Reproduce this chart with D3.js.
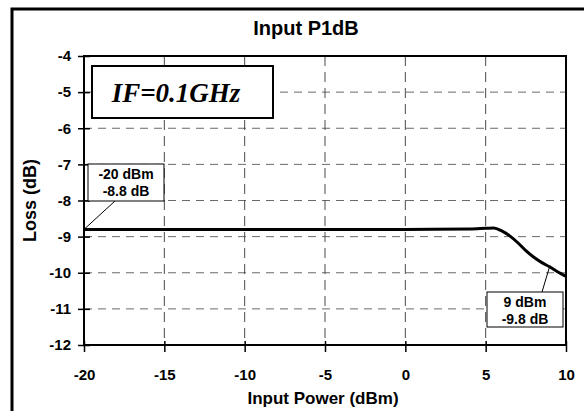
<!DOCTYPE html>
<html><head><meta charset="utf-8">
<script src="https://cdn.jsdelivr.net/npm/d3@7"></script>
<style>body{margin:0;background:#fff}svg{display:block}text{font-family:"Liberation Sans",Arial,sans-serif;font-weight:bold}</style>
</head><body>
<script>
const powerDbm = [-20, -10, 0, 4, 5, 5.5, 6, 6.5, 7, 7.5, 8, 8.5, 9, 9.5, 10];
const lossDb = [-8.8, -8.8, -8.8, -8.79, -8.77, -8.76, -8.84, -8.98, -9.17, -9.39, -9.57, -9.72, -9.84, -9.98, -10.1];
const xTicks = [-20, -15, -10, -5, 0, 5, 10];
const yTicks = [-4, -5, -6, -7, -8, -9, -10, -11, -12];
const annotations = [
  {x: -20, y: -8.8, lines: ["-20 dBm", "-8.8 dB"]},
  {x: 9, y: -9.8, lines: ["9 dBm", "-9.8 dB"]}
];

const W = 584, H = 411;
const svg = d3.select("body").append("svg").attr("width", W).attr("height", H);
const L = 84, R = 566, T = 56, B = 345;
const x = d3.scaleLinear().domain([-20, 10]).range([L, R]);
const y = d3.scaleLinear().domain([-12, -4]).range([B, T]);
const FONT = '"Liberation Sans",Arial,sans-serif';

// outer border
svg.append("rect").attr("x", 12).attr("y", 9).attr("width", 620).attr("height", 450)
  .attr("fill", "none").attr("stroke", "#000").attr("stroke-width", 3);

// grid
svg.append("g").selectAll("line").data(yTicks.filter(d => d > -12 && d < -4)).join("line")
  .attr("x1", L).attr("x2", R).attr("y1", d => y(d)).attr("y2", d => y(d))
  .attr("stroke", "#6a6a6a").attr("stroke-width", 1).attr("stroke-dasharray", "8,6");
svg.append("g").selectAll("line").data(xTicks.filter(d => d > -20 && d < 10)).join("line")
  .attr("y1", T).attr("y2", B).attr("x1", d => x(d)).attr("x2", d => x(d))
  .attr("stroke", "#4a4a4a").attr("stroke-width", 1).attr("stroke-dasharray", "10,6");

// axes
const fmt = d => String(d);
const xAxis = svg.append("g").attr("transform", `translate(0,${B})`)
  .call(d3.axisBottom(x).tickValues(xTicks).tickSize(6).tickPadding(18).tickFormat(fmt));
const yAxis = svg.append("g").attr("transform", `translate(${L},0)`)
  .call(d3.axisLeft(y).tickValues(yTicks).tickSize(6).tickPadding(13).tickFormat(fmt));
[xAxis, yAxis].forEach(g => {
  g.select(".domain").remove();
  g.selectAll("line").attr("stroke", "#000").attr("stroke-width", 1.5);
  g.selectAll("text").attr("font-size", 15).attr("fill", "#000")
    .style("font-family", FONT).style("font-weight", "bold");
});
yAxis.selectAll(".tick line").attr("x1", 6).attr("x2", -6);
yAxis.selectAll(".tick text").attr("x", -13);
xAxis.selectAll(".tick line").attr("y1", -4).attr("y2", 7);

// plot frame
svg.append("rect").attr("x", L).attr("y", T).attr("width", R - L).attr("height", B - T)
  .attr("fill", "none").attr("stroke", "#000").attr("stroke-width", 2);

// curve
svg.append("path").datum(powerDbm.map((p, i) => [p, lossDb[i]]))
  .attr("d", d3.line().x(d => x(d[0])).y(d => y(d[1])).curve(d3.curveMonotoneX))
  .attr("fill", "none").attr("stroke", "#000").attr("stroke-width", 3);

// IF box
svg.append("rect").attr("x", 92).attr("y", 66).attr("width", 181).attr("height", 52)
  .attr("fill", "#fff").attr("stroke", "#000").attr("stroke-width", 2);
svg.append("text").attr("x", 176).attr("y", 102).attr("text-anchor", "middle")
  .attr("font-size", 27).attr("font-style", "italic")
  .style("font-family", '"Liberation Serif","Times New Roman",serif').text("IF=0.1GHz");

// annotations
const boxes = [
  {bx: 88, by: 164, bw: 76, bh: 37, lx: 115, ly: 201},
  {bx: 487, by: 292, bw: 76, bh: 35, lx: 542, ly: 292}
];
annotations.forEach((a, i) => {
  const b = boxes[i];
  svg.append("line").attr("x1", b.lx).attr("y1", b.ly).attr("x2", x(a.x)).attr("y2", y(a.y))
    .attr("stroke", "#000").attr("stroke-width", 1);
  svg.append("rect").attr("x", b.bx).attr("y", b.by).attr("width", b.bw).attr("height", b.bh)
    .attr("fill", "#fff").attr("stroke", "#000").attr("stroke-width", 1);
  a.lines.forEach((t, j) => {
    svg.append("text").attr("x", b.bx + b.bw / 2).attr("y", b.by + 15 + j * 17)
      .attr("text-anchor", "middle").attr("font-size", 14).text(t);
  });
});

// titles
svg.append("text").attr("x", 306).attr("y", 35).attr("text-anchor", "middle").attr("font-size", 20).text("Input P1dB");
svg.append("text").attr("x", 323).attr("y", 404).attr("text-anchor", "middle").attr("font-size", 17).text("Input Power (dBm)");
svg.append("text").attr("transform", `translate(36,${(T + B) / 2}) rotate(-90)`).attr("text-anchor", "middle")
  .attr("font-size", 18).text("Loss (dB)");
</script>
</body></html>
